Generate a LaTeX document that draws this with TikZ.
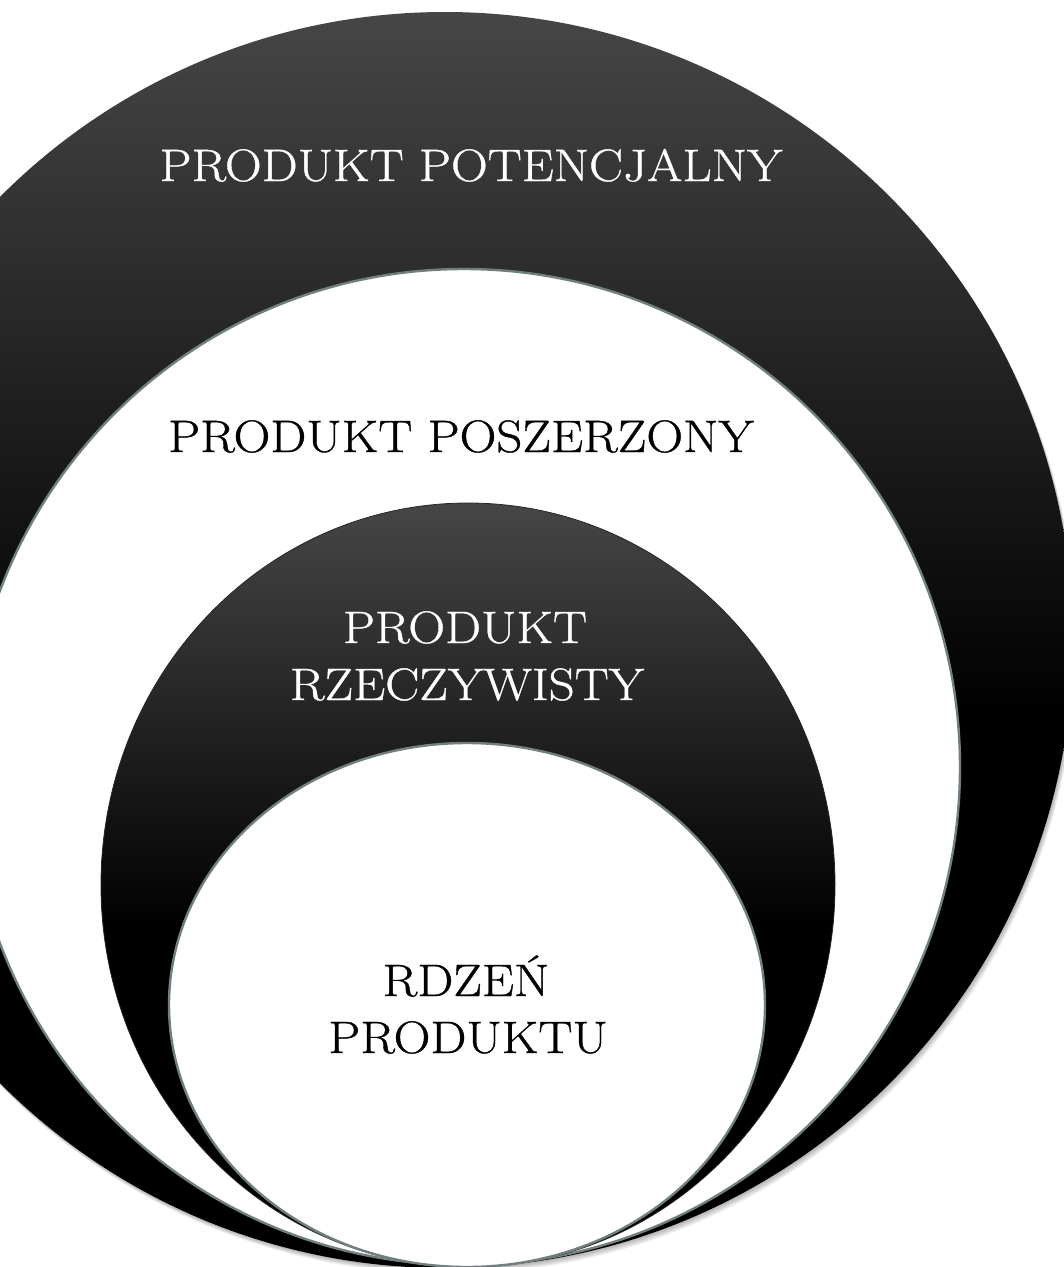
\documentclass[tikz,border=0pt]{standalone}
\usepackage{fontspec}
\newfontfamily\ringfont{Latin Modern Roman}[FakeStretch=1.12, FakeBold=0.8]
\definecolor{ringtop}{HTML}{464646}
\definecolor{rimgray}{HTML}{71807F}
% dark rings: grey at the top, fading to black just past the middle
\pgfdeclareverticalshading{ringshade}{100bp}{color(0bp)=(black); color(47bp)=(black); color(75bp)=(ringtop); color(100bp)=(ringtop)}
\begin{document}
\begin{tikzpicture}[x=1pt,y=-1pt,
  darkring/.style={shading=ringshade, draw=black!85, line width=0.8pt},
  lightring/.style={fill=white, draw=rimgray, line width=2.4pt},
  lbl/.style={font=\ringfont\fontsize{45.5}{57}\selectfont, anchor=base, inner sep=0pt}]
\useasboundingbox (0,0) rectangle (1064,1267);
\clip (0,0) rectangle (1064,1267);
\fill[white] (0,0) rectangle (1064,1267);

% soft shadow under the outer ring
\foreach \k in {1,...,6}
  \fill[black, opacity=0.05] (445+0.6*\k,640+\k) circle[radius=628];

% nested rings, all touching at the bottom
\path[darkring, draw=none] (445,640) circle[radius=628];
\path[lightring] (464,767) ellipse[x radius=496, y radius=498];
\path[darkring] (468,885) ellipse[x radius=367, y radius=382];
\path[lightring] (467,1005) ellipse[x radius=298, y radius=262];

% labels
\node[lbl, text=white] (potencjalny) at (471,181) {PRODUKT POTENCJALNY};
\node[lbl, text=black] (poszerzony) at (461,452) {PRODUKT POSZERZONY};
\node[lbl, text=white] (rzecz1) at (465,643) {PRODUKT};
\node[lbl, text=white] (rzecz2) at (467,700) {RZECZYWISTY};
\node[lbl, text=black] (rdzen1) at (466,996) {RDZEŃ};
\node[lbl, text=black] (rdzen2) at (468,1053) {PRODUKTU};
\end{tikzpicture}
\end{document}
